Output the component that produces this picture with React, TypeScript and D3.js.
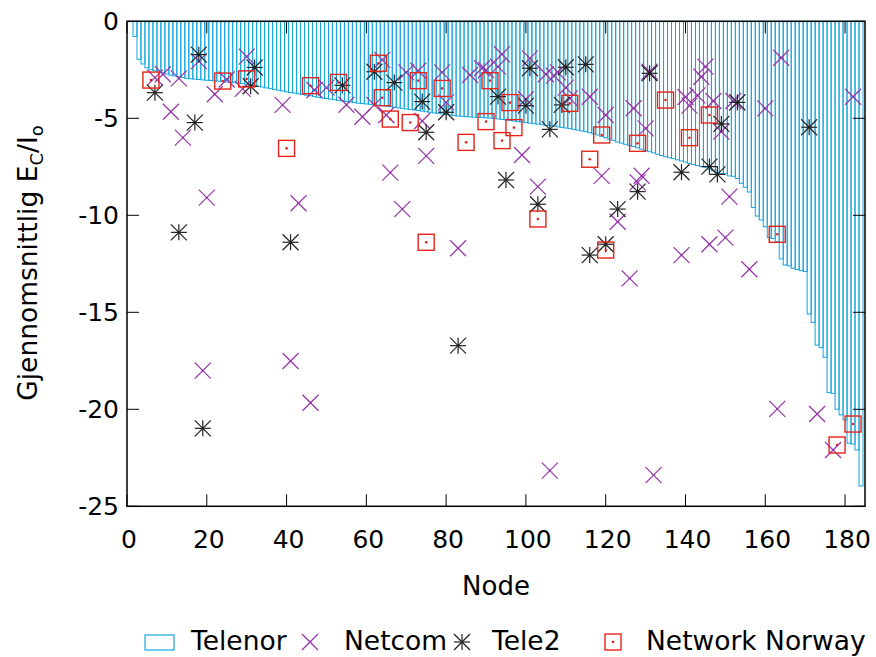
import React from "react";
import * as d3 from "d3";

// Telenor: mean Ec/Io per node, nodes 2..184 (sorted curve drawn as boxes)
const telenorFirstNode = 2;
const telenorValues = [
  -0.78, -1.96, -2.2, -2.4, -2.5, -2.55, -2.6, -2.65, -2.72, -2.78,
  -2.82, -2.86, -2.9, -2.94, -2.96, -2.98, -3.0, -3.02, -3.04, -3.05,
  -3.07, -3.09, -3.11, -3.13, -3.15, -3.17, -3.19, -3.21, -3.24, -3.27,
  -3.31, -3.35, -3.39, -3.43, -3.47, -3.51, -3.55, -3.59, -3.63, -3.67,
  -3.7, -3.74, -3.77, -3.81, -3.84, -3.88, -3.92, -3.95, -3.98, -4.01,
  -4.04, -4.07, -4.1, -4.13, -4.16, -4.19, -4.22, -4.24, -4.26, -4.28,
  -4.3, -4.32, -4.35, -4.37, -4.4, -4.43, -4.46, -4.49, -4.52, -4.55,
  -4.57, -4.6, -4.63, -4.66, -4.69, -4.72, -4.74, -4.77, -4.8, -4.83,
  -4.85, -4.88, -4.9, -4.91, -4.93, -4.94, -4.95, -4.96, -4.98, -4.99,
  -5.0, -5.03, -5.06, -5.08, -5.11, -5.14, -5.17, -5.19, -5.22, -5.25,
  -5.28, -5.3, -5.33, -5.36, -5.38, -5.41, -5.44, -5.47, -5.5, -5.53,
  -5.57, -5.61, -5.65, -5.69, -5.74, -5.8, -5.86, -5.93, -6.0, -6.07,
  -6.14, -6.22, -6.28, -6.34, -6.4, -6.46, -6.52, -6.59, -6.66, -6.72,
  -6.78, -6.85, -6.92, -6.98, -7.03, -7.08, -7.14, -7.2, -7.26, -7.32,
  -7.38, -7.44, -7.49, -7.52, -7.62, -7.7, -7.78, -7.85, -7.86, -7.97,
  -7.99, -8.1, -8.35, -8.56, -8.8, -9.6, -10.04, -10.24, -10.59, -11.15,
  -11.2, -11.36, -12.25, -12.56, -12.61, -12.73, -12.79, -12.85, -12.9, -15.09,
  -15.53, -16.69, -16.82, -17.32, -19.14, -19.18, -20.0, -20.29, -20.55, -21.75,
  -21.79, -22.1, -23.95,
];

const netcomNodes = [
  7, 9, 11, 13, 14, 18, 19, 20, 22, 25, 29, 30, 39, 41, 43, 46, 47, 50, 55, 59,
  62, 64, 65, 66, 69, 70, 73, 74, 75, 79, 80, 83, 86, 89, 90, 93, 94, 99, 100, 101,
  103, 105, 106, 107, 108, 110, 111, 116, 119, 120, 123, 126, 127, 128, 129, 130, 131, 132, 139, 140,
  141, 143, 144, 145, 146, 147, 149, 150, 151, 152, 153, 156, 160, 163, 164, 173, 177, 182,
];
const netcomValues = [
  -2.9, -2.73, -4.66, -2.94, -6.0, -2.05, -18.01, -9.09, -3.76, -3.0, -3.48, -1.82, -4.31, -17.51, -9.38, -19.66, -3.54, -3.42, -4.3, -4.92,
  -4.31, -1.99, -4.83, -7.8, -9.68, -2.63, -2.55, -5.14, -6.94, -2.63, -4.18, -11.7, -2.77, -2.42, -2.51, -2.34, -1.7, -6.89, -4.02, -1.91,
  -8.52, -2.73, -23.16, -2.8, -2.63, -3.42, -3.97, -3.89, -7.97, -4.83, -10.33, -13.25, -4.48, -8.3, -7.96, -5.52, -2.6, -23.39, -12.05, -3.9,
  -4.35, -3.82, -2.86, -2.34, -11.49, -4.11, -5.69, -11.15, -9.04, -4.11, -4.18, -12.78, -4.49, -19.98, -1.88, -20.24, -22.1, -3.89,
];

const tele2Nodes = [
  7, 13, 17, 18, 19, 31, 32, 41, 54, 62, 67, 74, 75, 80, 83, 93, 95, 100, 101, 103,
  106, 109, 110, 115, 116, 120, 123, 128, 131, 139, 146, 148, 149, 153, 171,
];
const tele2Values = [
  -3.68, -10.88, -5.22, -1.72, -20.98, -3.35, -2.38, -11.39, -3.3, -2.6, -3.16, -4.14, -5.72, -4.69, -16.72, -3.88, -8.18, -4.35, -2.42, -9.43,
  -5.57, -4.31, -2.37, -2.22, -12.05, -11.49, -9.68, -8.78, -2.68, -7.78, -7.49, -7.89, -5.29, -4.18, -5.46,
];

const networkNorwayNodes = [
  6, 24, 30, 40, 46, 53, 63, 64, 66, 71, 73, 75, 79, 85, 90, 91, 94, 96, 97, 103,
  111, 116, 119, 120, 128, 135, 141, 146, 163, 178, 182,
];
const networkNorwayValues = [
  -3.03, -3.08, -2.97, -6.55, -3.32, -3.15, -2.16, -3.94, -5.04, -5.22, -3.06, -11.39, -3.46, -6.24, -5.17, -3.06, -6.15, -4.19, -5.48, -10.19,
  -4.23, -7.11, -5.86, -11.79, -6.29, -4.06, -6.0, -4.83, -10.98, -21.84, -20.76,
];

const xTicks = [0, 20, 40, 60, 80, 100, 120, 140, 160, 180];
const yTicks = [0, -5, -10, -15, -20, -25];
const seriesNames = ["Telenor", "Netcom", "Tele2", "Network Norway"];

const W = 876;
const H = 657;
const plot = { left: 127, right: 865, top: 21.3, bottom: 506.3 };

const COL_TELENOR = "#15a6e0";
const COL_NETCOM = "#9433a8";
const COL_TELE2 = "#222222";
const COL_NN = "#e4231a";
const FONT = "'DejaVu Sans', sans-serif";
const FS = 25;
const FS_TITLE = 26.5;
const TICK = 12;
const M = 8; // marker half-size

function Cross({ cx, cy, color }: { cx: number; cy: number; color: string }) {
  return (
    <g stroke={color} strokeWidth={1.2} fill="none">
      <line x1={cx - M} y1={cy - M} x2={cx + M} y2={cy + M} />
      <line x1={cx - M} y1={cy + M} x2={cx + M} y2={cy - M} />
      <circle cx={cx} cy={cy} r={1} fill={color} stroke="none" />
    </g>
  );
}

function Star({ cx, cy, color }: { cx: number; cy: number; color: string }) {
  return (
    <g stroke={color} strokeWidth={1.2} fill="none">
      <line x1={cx - M} y1={cy} x2={cx + M} y2={cy} />
      <line x1={cx} y1={cy - M} x2={cx} y2={cy + M} />
      <line x1={cx - M} y1={cy - M} x2={cx + M} y2={cy + M} />
      <line x1={cx - M} y1={cy + M} x2={cx + M} y2={cy - M} />
      <circle cx={cx} cy={cy} r={1.2} fill={color} stroke="none" />
    </g>
  );
}

function DotSquare({ cx, cy, color }: { cx: number; cy: number; color: string }) {
  return (
    <g stroke={color} strokeWidth={1.4} fill="none">
      <rect x={cx - M} y={cy - M} width={2 * M} height={2 * M} />
      <circle cx={cx} cy={cy} r={1.3} fill={color} stroke="none" />
    </g>
  );
}

export default function App() {
  const x = d3.scaleLinear().domain([0, 185]).range([plot.left, plot.right]);
  const y = d3.scaleLinear().domain([-25, 0]).range([plot.bottom, plot.top]);

  const telenor = telenorValues.map((v, i) => ({ node: telenorFirstNode + i, v }));
  const netcom = netcomNodes.map((n, i) => ({ node: n, v: netcomValues[i] }));
  const tele2 = tele2Nodes.map((n, i) => ({ node: n, v: tele2Values[i] }));
  const nn = networkNorwayNodes.map((n, i) => ({ node: n, v: networkNorwayValues[i] }));

  const legendY = 642;

  return (
    <svg
      width={W}
      height={H}
      viewBox={`0 0 ${W} ${H}`}
      style={{ position: "absolute", left: 0, top: 0, background: "#fff" }}
      fontFamily={FONT}
    >
      <rect x={0} y={0} width={W} height={H} fill="#fff" />

      {/* Telenor boxes */}
      <g stroke={COL_TELENOR} strokeWidth={1} fill="none">
        {telenor.map((d) => {
          const x0 = x(d.node - 0.5);
          const x1 = x(d.node + 0.5);
          return (
            <rect key={d.node} x={x0} y={y(0)} width={x1 - x0} height={y(d.v) - y(0)} />
          );
        })}
      </g>

      {netcom.map((d, i) => (
        <Cross key={"n" + i} cx={x(d.node)} cy={y(d.v)} color={COL_NETCOM} />
      ))}
      {tele2.map((d, i) => (
        <Star key={"t" + i} cx={x(d.node)} cy={y(d.v)} color={COL_TELE2} />
      ))}
      {nn.map((d, i) => (
        <DotSquare key={"w" + i} cx={x(d.node)} cy={y(d.v)} color={COL_NN} />
      ))}

      {/* ticks, mirrored on all sides */}
      <g stroke="#000" strokeWidth={1}>
        {xTicks.map((t) => (
          <g key={"xt" + t}>
            <line x1={x(t)} x2={x(t)} y1={plot.bottom} y2={plot.bottom - TICK} />
            <line x1={x(t)} x2={x(t)} y1={plot.top} y2={plot.top + TICK} />
          </g>
        ))}
        {yTicks.map((t) => (
          <g key={"yt" + t}>
            <line x1={plot.left} x2={plot.left + TICK} y1={y(t)} y2={y(t)} />
            <line x1={plot.right} x2={plot.right - TICK} y1={y(t)} y2={y(t)} />
          </g>
        ))}
      </g>

      {/* frame */}
      <rect
        x={plot.left}
        y={plot.top}
        width={plot.right - plot.left}
        height={plot.bottom - plot.top}
        fill="none"
        stroke="#000"
        strokeWidth={1.5}
      />

      {/* tick labels */}
      <g fontSize={FS} fill="#000">
        {xTicks.map((t) => (
          <text key={"xl" + t} x={x(t) + 2} y={548} textAnchor="middle">
            {t}
          </text>
        ))}
        {yTicks.map((t) => (
          <text key={"yl" + t} x={119} y={y(t) + 9} textAnchor="end">
            {t}
          </text>
        ))}
      </g>

      {/* axis titles */}
      <text x={(plot.left + plot.right) / 2} y={595} textAnchor="middle" fontSize={26}>
        Node
      </text>
      <text transform="translate(37,263) rotate(-90)" textAnchor="middle" fontSize={FS_TITLE}>
        Gjennomsnittlig E
        <tspan fontSize={18} dy={6}>C</tspan>
        <tspan dy={-6}>/I</tspan>
        <tspan fontSize={18} dy={6}>o</tspan>
      </text>

      {/* legend */}
      <g fontSize={FS_TITLE}>
        <rect x={145} y={legendY - 7} width={29} height={15} fill="none" stroke={COL_TELENOR} strokeWidth={1.2} />
        <text x={191} y={650}>{seriesNames[0]}</text>
        <Cross cx={310} cy={legendY} color={COL_NETCOM} />
        <text x={344} y={650}>{seriesNames[1]}</text>
        <Star cx={462} cy={legendY} color={COL_TELE2} />
        <text x={492} y={650}>{seriesNames[2]}</text>
        <DotSquare cx={613} cy={legendY} color={COL_NN} />
        <text x={646} y={650}>{seriesNames[3]}</text>
      </g>
    </svg>
  );
}
